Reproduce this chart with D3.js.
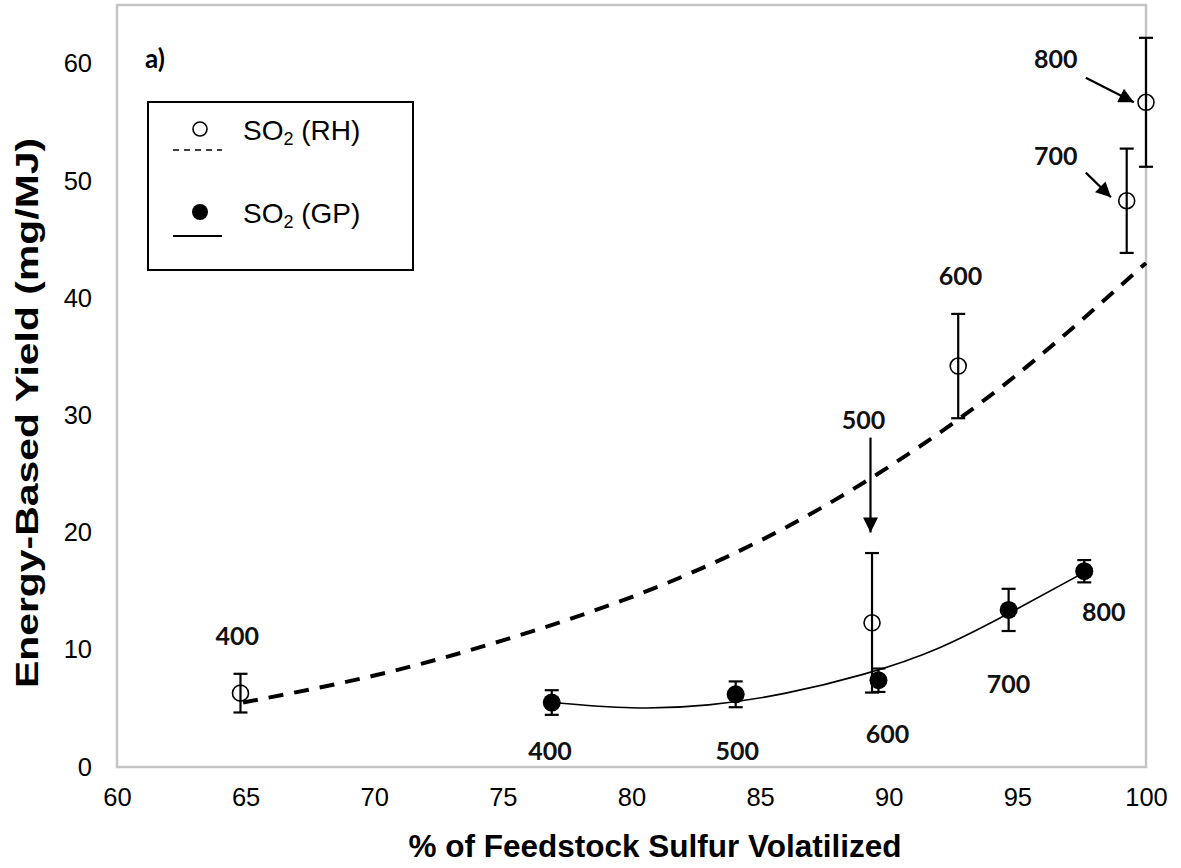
<!DOCTYPE html>
<html>
<head>
<meta charset="utf-8">
<script src="https://cdn.jsdelivr.net/npm/d3@7"></script>
<style>
  body { margin: 0; background: #fff; }
  svg { display: block; }
</style>
</head>
<body>
<div id="chart"></div>
<script>
// --- data ---
let temps = [400, 500, 600, 700, 800];

// SO2 (RH) - open circles
let rh_x   = [64.8, 89.35, 92.7, 99.25, 100.0];
let rh_y   = [6.3, 12.3, 34.2, 48.3, 56.7];
let rh_err = [1.65, 5.95, 4.45, 4.45, 5.5];

// SO2 (GP) - filled circles
let gp_x   = [76.9, 84.05, 89.6, 94.66, 97.6];
let gp_y   = [5.5, 6.2, 7.4, 13.4, 16.7];
let gp_err = [1.05, 1.1, 1.0, 1.8, 0.95];

// trend lines as drawn in the figure
let rh_trend_x = [64.9, 70, 75, 80, 85, 90, 95, 100];
let rh_trend_y = [5.5, 7.8, 10.8, 14.5, 19.3, 25.6, 33.5, 43.0];
let gp_trend_x = [76.9, 80, 83, 86, 89, 92, 95, 97.6];
let gp_trend_y = [5.5, 5.05, 5.3, 6.3, 7.9, 10.2, 13.5, 16.6];

// temperature labels (data coords)
let rh_lab_x = [64.67, 89.02, 92.79, 96.49, 96.49];
let rh_lab_y = [11.3, 29.7, 42.0, 52.2, 60.5];
let gp_lab_x = [76.83, 84.11, 89.95, 94.66, 98.36];
let gp_lab_y = [1.45, 1.45, 2.9, 7.2, 13.3];

// arrows (data coords) for RH 500, 700, 800
let arrows = [
    {x1: 89.29, y1: 28.1, x2: 89.29, y2: 20.0},
    {x1: 97.66, y1: 50.7, x2: 98.64, y2: 48.6},
    {x1: 97.66, y1: 58.8, x2: 99.53, y2: 56.7}
];

let x_ticks = [60, 65, 70, 75, 80, 85, 90, 95, 100];
let y_ticks = [0, 10, 20, 30, 40, 50, 60];

let win_width = 1181, win_height = 868;
let svg = d3.select("#chart").append("svg")
    .attr("width", win_width)
    .attr("height", win_height);

let x = d3.scaleLinear().domain([60, 100]).range([117, 1146]);
let y = d3.scaleLinear().domain([0, 65]).range([767, 5]);

// arrow head
svg.append("defs").append("marker")
    .attr("id", "head")
    .attr("viewBox", "0 0 10 10")
    .attr("refX", 10).attr("refY", 5)
    .attr("markerWidth", 17).attr("markerHeight", 15)
    .attr("markerUnits", "userSpaceOnUse")
    .attr("orient", "auto")
    .append("path")
    .attr("d", "M0,0 L10,5 L0,10 Z")
    .attr("fill", "#000");

// plot frame
svg.append("rect")
    .attr("x", x(60)).attr("y", y(65))
    .attr("width", x(100) - x(60)).attr("height", y(0) - y(65))
    .attr("fill", "none")
    .attr("stroke", "#c4c4c4")
    .attr("stroke-width", 2.5);

// axes
let xAxis = svg.append("g")
    .attr("transform", "translate(0," + y(0) + ")")
    .call(d3.axisBottom(x).tickValues(x_ticks).tickSize(0).tickPadding(21));
let yAxis = svg.append("g")
    .attr("transform", "translate(" + (x(60) - 25) + ",0)")
    .call(d3.axisLeft(y).tickValues(y_ticks).tickSize(0).tickPadding(0));
[xAxis, yAxis].forEach(function(a) {
    a.select(".domain").remove();
    a.selectAll("text")
        .attr("font-family", "Liberation Sans, Arial, sans-serif")
        .attr("font-size", 25.5)
        .attr("fill", "#000");
});

// axis titles
svg.append("text")
    .attr("x", 655).attr("y", 857)
    .attr("text-anchor", "middle")
    .attr("font-family", "Liberation Sans, Arial, sans-serif")
    .attr("font-weight", "bold")
    .attr("font-size", 31.5)
    .text("% of Feedstock Sulfur Volatilized");
svg.append("text")
    .attr("transform", "translate(38,413) rotate(-90) scale(1.32,1)")
    .attr("text-anchor", "middle")
    .attr("font-family", "Liberation Sans, Arial, sans-serif")
    .attr("font-weight", "bold")
    .attr("font-size", 31)
    .text("Energy-Based Yield (mg/MJ)");

// panel label
svg.append("text")
    .attr("x", 145).attr("y", 68)
    .attr("font-family", "Lato, sans-serif")
    .attr("font-weight", "bold")
    .attr("font-size", 26)
    .text("a)");

// trend lines
let rh_trend = rh_trend_x.map(function(d, i) { return [d, rh_trend_y[i]]; });
let gp_trend = gp_trend_x.map(function(d, i) { return [d, gp_trend_y[i]]; });
let line = d3.line()
    .x(function(d) { return x(d[0]); })
    .y(function(d) { return y(d[1]); })
    .curve(d3.curveNatural);

svg.append("path")
    .attr("d", line(rh_trend))
    .attr("fill", "none")
    .attr("stroke", "#000")
    .attr("stroke-width", 4)
    .attr("stroke-dasharray", "15,11");
svg.append("path")
    .attr("d", line(gp_trend))
    .attr("fill", "none")
    .attr("stroke", "#000")
    .attr("stroke-width", 1.6);

// error bars
let rh = rh_x.map(function(d, i) { return {x: d, y: rh_y[i], e: rh_err[i], t: temps[i]}; });
let gp = gp_x.map(function(d, i) { return {x: d, y: gp_y[i], e: gp_err[i], t: temps[i]}; });

function errorBars(data) {
    let g = svg.append("g").attr("stroke", "#000").attr("stroke-width", 2.2);
    g.selectAll(".stem").data(data).join("line")
        .attr("x1", function(d) { return x(d.x); })
        .attr("x2", function(d) { return x(d.x); })
        .attr("y1", function(d) { return y(d.y + d.e); })
        .attr("y2", function(d) { return y(d.y - d.e); });
    g.selectAll(".capT").data(data).join("line")
        .attr("x1", function(d) { return x(d.x) - 7; })
        .attr("x2", function(d) { return x(d.x) + 7; })
        .attr("y1", function(d) { return y(d.y + d.e); })
        .attr("y2", function(d) { return y(d.y + d.e); });
    g.selectAll(".capB").data(data).join("line")
        .attr("x1", function(d) { return x(d.x) - 7; })
        .attr("x2", function(d) { return x(d.x) + 7; })
        .attr("y1", function(d) { return y(d.y - d.e); })
        .attr("y2", function(d) { return y(d.y - d.e); });
}
errorBars(rh);
errorBars(gp);

// markers
svg.append("g").selectAll("circle").data(rh).join("circle")
    .attr("cx", function(d) { return x(d.x); })
    .attr("cy", function(d) { return y(d.y); })
    .attr("r", 8)
    .attr("fill", "none")
    .attr("stroke", "#000")
    .attr("stroke-width", 1.6);
svg.append("g").selectAll("circle").data(gp).join("circle")
    .attr("cx", function(d) { return x(d.x); })
    .attr("cy", function(d) { return y(d.y); })
    .attr("r", 9)
    .attr("fill", "#000");

// temperature labels
let labFont = function(sel) {
    sel.attr("font-family", "Lato, sans-serif")
        .attr("font-weight", "bold")
        .attr("font-size", 25)
        .attr("text-anchor", "middle")
        .attr("dominant-baseline", "central")
        .attr("fill", "#111");
};
svg.append("g").selectAll("text").data(temps).join("text")
    .attr("x", function(d, i) { return x(rh_lab_x[i]); })
    .attr("y", function(d, i) { return y(rh_lab_y[i]); })
    .text(function(d) { return d; })
    .call(labFont);
svg.append("g").selectAll("text").data(temps).join("text")
    .attr("x", function(d, i) { return x(gp_lab_x[i]); })
    .attr("y", function(d, i) { return y(gp_lab_y[i]); })
    .text(function(d) { return d; })
    .call(labFont);

// arrows
svg.append("g").selectAll("line").data(arrows).join("line")
    .attr("x1", function(d) { return x(d.x1); })
    .attr("y1", function(d) { return y(d.y1); })
    .attr("x2", function(d) { return x(d.x2); })
    .attr("y2", function(d) { return y(d.y2); })
    .attr("stroke", "#000")
    .attr("stroke-width", 2.2)
    .attr("marker-end", "url(#head)");

// legend
let lg = svg.append("g").attr("transform", "translate(148,102)");
lg.append("rect")
    .attr("width", 265).attr("height", 168)
    .attr("fill", "#fff")
    .attr("stroke", "#000")
    .attr("stroke-width", 2);
lg.append("circle").attr("cx", 52).attr("cy", 27).attr("r", 7)
    .attr("fill", "none").attr("stroke", "#000").attr("stroke-width", 1.6);
lg.append("line").attr("x1", 25).attr("x2", 74).attr("y1", 48).attr("y2", 48)
    .attr("stroke", "#000").attr("stroke-width", 1.6).attr("stroke-dasharray", "6,5");
lg.append("circle").attr("cx", 52).attr("cy", 110).attr("r", 8).attr("fill", "#000");
lg.append("line").attr("x1", 25).attr("x2", 74).attr("y1", 134).attr("y2", 134)
    .attr("stroke", "#000").attr("stroke-width", 2.2);

let legTexts = [{y: 38, s: "RH"}, {y: 121, s: "GP"}];
legTexts.forEach(function(d) {
    let t = lg.append("text")
        .attr("x", 95).attr("y", d.y)
        .attr("font-family", "Liberation Sans, Arial, sans-serif")
        .attr("font-size", 28)
        .attr("fill", "#000");
    t.append("tspan").text("SO");
    t.append("tspan").attr("font-size", 18).attr("dy", 5).text("2");
    t.append("tspan").attr("dy", -5).text(" (" + d.s + ")");
});
</script>
</body>
</html>
